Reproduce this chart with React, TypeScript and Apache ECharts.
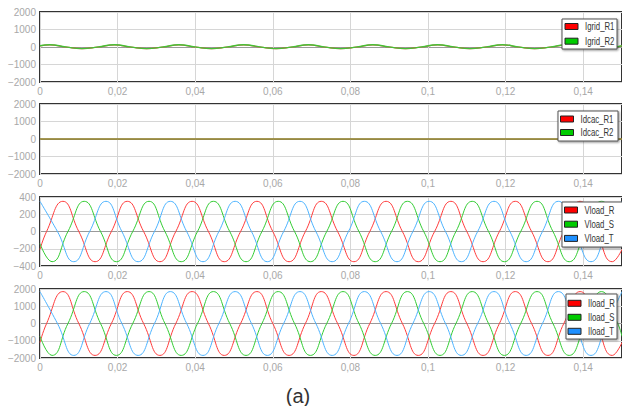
import React, { useEffect, useRef } from "react";
import * as echarts from "echarts";

// ---------- data ----------
const xTickValues = [0, 0.02, 0.04, 0.06, 0.08, 0.1, 0.12, 0.14];

const igridTimes = [0, 0.0025, 0.0067, 0.0108, 0.015, 0.0192, 0.0233, 0.0275, 0.0317, 0.0358, 0.04, 0.0442, 0.0483, 0.0525, 0.0567, 0.0608, 0.065, 0.0692, 0.0733, 0.0775, 0.0817, 0.0858, 0.09, 0.0942, 0.0983, 0.1025, 0.1067, 0.1108, 0.115, 0.1192, 0.1233, 0.1275, 0.1317, 0.1358, 0.14, 0.1442, 0.1483, 0.15];
const igridR1 = [65, 125, 0, -90, 0, 125, 0, -90, 0, 125, 0, -90, 0, 125, 0, -90, 0, 125, 0, -90, 0, 125, 0, -90, 0, 125, 0, -90, 0, 125, 0, -90, 0, 125, 0, -90, 0, 65];
const igridR2 = [70, 130, 5, -95, 5, 130, 5, -95, 5, 130, 5, -95, 5, 130, 5, -95, 5, 130, 5, -95, 5, 130, 5, -95, 5, 130, 5, -95, 5, 130, 5, -95, 5, 130, 5, -95, 5, 70];

const idcacTimes = [0, 0.15];
const idcacR1 = [0, 0];
const idcacR2 = [0, 0];

const phaseRTimes = [0, 0.0017, 0.0059, 0.01, 0.0142, 0.0184, 0.0225, 0.0267, 0.0309, 0.035, 0.0392, 0.0434, 0.0475, 0.0517, 0.0559, 0.06, 0.0642, 0.0684, 0.0725, 0.0767, 0.0809, 0.085, 0.0892, 0.0934, 0.0975, 0.1017, 0.1059, 0.11, 0.1142, 0.1184, 0.1225, 0.1267, 0.1309, 0.135, 0.1392, 0.1434, 0.1475, 0.15];
const phaseSTimes = [0, 0.0031, 0.0072, 0.0114, 0.0156, 0.0197, 0.0239, 0.0281, 0.0322, 0.0364, 0.0406, 0.0447, 0.0489, 0.0531, 0.0572, 0.0614, 0.0656, 0.0697, 0.0739, 0.0781, 0.0822, 0.0864, 0.0906, 0.0947, 0.0989, 0.1031, 0.1072, 0.1114, 0.1156, 0.1197, 0.1239, 0.1281, 0.1322, 0.1364, 0.1406, 0.1447, 0.1489, 0.15];
const phaseTTimes = [0, 0.0045, 0.0087, 0.0128, 0.017, 0.0211, 0.0253, 0.0295, 0.0336, 0.0378, 0.042, 0.0461, 0.0503, 0.0545, 0.0586, 0.0628, 0.067, 0.0711, 0.0753, 0.0795, 0.0836, 0.0878, 0.092, 0.0961, 0.1003, 0.1045, 0.1086, 0.1128, 0.117, 0.1211, 0.1253, 0.1295, 0.1336, 0.1378, 0.142, 0.1461, 0.15];

const vloadR = [-208, 0, 350, 0, -350, 0, 350, 0, -350, 0, 350, 0, -350, 0, 350, 0, -350, 0, 350, 0, -350, 0, 350, 0, -350, 0, 350, 0, -350, 0, 350, 0, -350, 0, 350, 0, -350, -207];
const vloadS = [-140, -350, 0, 350, 0, -350, 0, 350, 0, -350, 0, 350, 0, -350, 0, 350, 0, -350, 0, 350, 0, -350, 0, 350, 0, -350, 0, 350, 0, -350, 0, 350, 0, -350, 0, 350, 0, -140];
const vloadT = [349, 0, -350, 0, 350, 0, -350, 0, 350, 0, -350, 0, 350, 0, -350, 0, 350, 0, -350, 0, 350, 0, -350, 0, 350, 0, -350, 0, 350, 0, -350, 0, 350, 0, -350, 0, 350];

const iloadR = [-1100, 0, 1850, 0, -1850, 0, 1850, 0, -1850, 0, 1850, 0, -1850, 0, 1850, 0, -1850, 0, 1850, 0, -1850, 0, 1850, 0, -1850, 0, 1850, 0, -1850, 0, 1850, 0, -1850, 0, 1850, 0, -1850, -1095];
const iloadS = [-740, -1850, 0, 1850, 0, -1850, 0, 1850, 0, -1850, 0, 1850, 0, -1850, 0, 1850, 0, -1850, 0, 1850, 0, -1850, 0, 1850, 0, -1850, 0, 1850, 0, -1850, 0, 1850, 0, -1850, 0, 1850, 0, -745];
const iloadT = [1845, 0, -1850, 0, 1850, 0, -1850, 0, 1850, 0, -1850, 0, 1850, 0, -1850, 0, 1850, 0, -1850, 0, 1850, 0, -1850, 0, 1850, 0, -1850, 0, 1850, 0, -1850, 0, 1850, 0, -1850, 0, 1849];

const panelRanges = [
  { min: -2000, max: 2000, interval: 1000 },
  { min: -2000, max: 2000, interval: 1000 },
  { min: -400, max: 400, interval: 200 },
  { min: -2000, max: 2000, interval: 1000 },
];
const legendNames = [
  ["Igrid_R1", "Igrid_R2"],
  ["Idcac_R1", "Idcac_R2"],
  ["Vload_R", "Vload_S", "Vload_T"],
  ["Iload_R", "Iload_S", "Iload_T"],
];
const caption = "(a)";

// ---------- styles ----------
const RED_LINE = "#ff3c3c";
const GREEN_LINE = "#33cc33";
const BLUE_LINE = "#4db3ff";
const SWATCHES = ["#ff0000", "#00cc00", "#1e90ff"];
const FONT = "'Liberation Sans', Arial, sans-serif";

const gridTops = [12, 104, 197, 289];
const gridHeights = [70, 70, 69, 69];
const legendBoxes = [
  { x: 562, y: 19, w: 55, h: 30, cy: 26.5, step: 14.7, sx: 565 },
  { x: 558, y: 111, w: 60, h: 30, cy: 119, step: 13.5, sx: 560.5 },
  { x: 562, y: 202, w: 64, h: 45, cy: 210, step: 14.2, sx: 564.5 },
  { x: 566, y: 294, w: 51, h: 45, cy: 303.3, step: 14, sx: 568 },
];

function pairs(times: number[], vals: number[]) {
  return times.map((t, i) => [t, vals[i]]);
}

export default function App() {
  const ref = useRef<HTMLDivElement>(null);
  useEffect(() => {
    document.body.style.margin = "0";
    if (!ref.current) return;
    const chart = echarts.init(ref.current, undefined, { renderer: "svg" });

    const grids = gridTops.map((top, i) => ({
      left: 40,
      width: 584,
      top,
      height: gridHeights[i],
      show: true,
      borderColor: "#333333",
      borderWidth: 2,
      backgroundColor: "#fff",
    }));

    const xAxes = gridTops.map((_, i) => ({
      type: "value",
      gridIndex: i,
      min: 0,
      max: 0.15,
      interval: 0.02,
      axisLine: { show: false },
      axisTick: { show: false },
      axisLabel: {
        color: "#a8a8a8",
        fontSize: 10,
        fontFamily: FONT,
        margin: 4,
        showMaxLabel: false,
        formatter: (v: number) => {
          const hit = xTickValues.find((t) => Math.abs(t - v) < 1e-9);
          return hit === undefined ? "" : String(hit).replace(".", ",");
        },
      },
      splitLine: { show: true, lineStyle: { color: "#d6d6d6", width: 1 } },
    }));

    const yAxes = panelRanges.map((r, i) => ({
      type: "value",
      gridIndex: i,
      min: r.min,
      max: r.max,
      interval: r.interval,
      axisLine: { show: false },
      axisTick: { show: false },
      axisLabel: {
        color: "#a8a8a8",
        fontSize: 10,
        fontFamily: FONT,
        margin: 4,
        formatter: (v: number) => (v < 0 ? "\u2212" + Math.abs(v) : String(v)),
      },
      splitLine: {
        show: true,
        lineStyle: { color: ["#d6d6d6", "#d6d6d6", "#9a9a9a", "#d6d6d6", "#d6d6d6"], width: 1 },
      },
    }));

    const mk = (name: string, times: number[], vals: number[], g: number, line: string, opacity = 1, width = 1) => ({
      type: "line",
      name,
      xAxisIndex: g,
      yAxisIndex: g,
      data: pairs(times, vals),
      smooth: 0.5,
      symbol: "none",
      showSymbol: false,
      lineStyle: { color: line, width, opacity },
      itemStyle: { color: line },
      emphasis: { disabled: true },
    });

    const series = [
      mk(legendNames[0][0], igridTimes, igridR1, 0, RED_LINE, 1, 1.2),
      mk(legendNames[0][1], igridTimes, igridR2, 0, GREEN_LINE, 0.92, 1.4),
      mk(legendNames[1][0], idcacTimes, idcacR1, 1, RED_LINE, 1, 1.5),
      mk(legendNames[1][1], idcacTimes, idcacR2, 1, GREEN_LINE, 0.6, 1.5),
      mk(legendNames[2][0], phaseRTimes, vloadR, 2, RED_LINE),
      mk(legendNames[2][1], phaseSTimes, vloadS, 2, GREEN_LINE),
      mk(legendNames[2][2], phaseTTimes, vloadT, 2, BLUE_LINE),
      mk(legendNames[3][0], phaseRTimes, iloadR, 3, RED_LINE),
      mk(legendNames[3][1], phaseSTimes, iloadS, 3, GREEN_LINE),
      mk(legendNames[3][2], phaseTTimes, iloadT, 3, BLUE_LINE),
    ];

    const legendGraphics: any[] = [];
    legendNames.forEach((names, i) => {
      const b = legendBoxes[i];
      legendGraphics.push({
        type: "rect",
        shape: { x: b.x, y: b.y, width: b.w, height: b.h },
        style: {
          fill: "#ffffff",
          stroke: "#555555",
          lineWidth: 1,
          shadowColor: "rgba(0,0,0,0.45)",
          shadowBlur: 2,
          shadowOffsetX: 1,
          shadowOffsetY: 1,
        },
        z: 100,
      });
      names.forEach((n, j) => {
        const cy = b.cy + j * b.step;
        legendGraphics.push({
          type: "rect",
          shape: { x: b.sx, y: cy - 3, width: 13, height: 6 },
          style: { fill: SWATCHES[j], stroke: "#222", lineWidth: 1 },
          z: 101,
        });
        legendGraphics.push({
          type: "text",
          x: b.sx + 20,
          y: cy + 0.5,
          scaleX: 0.78,
          style: {
            text: n,
            fontSize: 10,
            fontFamily: FONT,
            fill: "#333",
            align: "left",
            verticalAlign: "middle",
          },
          z: 101,
        });
      });
    });

    chart.setOption({
      animation: false,
      backgroundColor: "#ffffff",
      grid: grids,
      xAxis: xAxes,
      yAxis: yAxes,
      series,
      graphic: [
        ...legendGraphics,
        {
          type: "text",
          x: 298,
          y: 396,
          style: {
            text: caption,
            fontSize: 20,
            fontFamily: FONT,
            fill: "#333",
            align: "center",
            verticalAlign: "middle",
          },
        },
      ],
    });
    return () => chart.dispose();
  }, []);
  return <div ref={ref} style={{ width: 622, height: 406 }} />;
}
